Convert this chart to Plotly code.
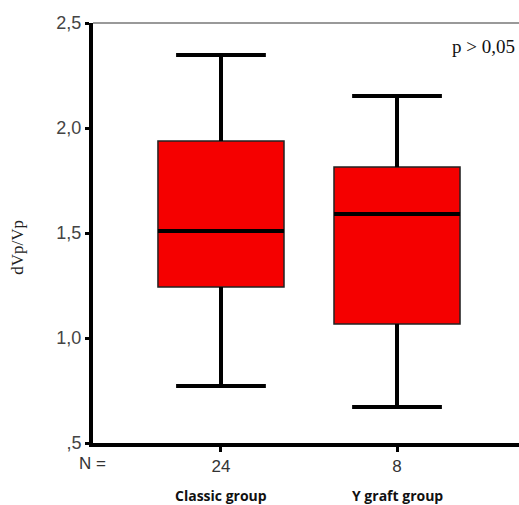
import plotly.graph_objects as go

groups = ["Classic group", "Y graft group"]
n_labels = ["24", "8"]
q1 = [1.243, 1.067]
median = [1.51, 1.59]
q3 = [1.938, 1.814]
lower = [0.771, 0.671]
upper = [2.348, 2.152]
y_ticks = [0.5, 1.0, 1.5, 2.0, 2.5]
y_tick_text = [",5", "1,0", "1,5", "2,0", "2,5"]

box_w = 0.716
cap_half = 0.255
xs = list(range(len(groups)))

fig = go.Figure()
fig.add_trace(go.Box(
    x=xs, q1=q1, median=median, q3=q3, lowerfence=lower, upperfence=upper,
    width=box_w, whiskerwidth=0, fillcolor="#f50000",
    line=dict(color="#222222", width=1.5), boxpoints=False, showlegend=False,
    hoverinfo="skip",
))

# whiskers, caps and median lines drawn thick
wx, wy = [], []
for i in xs:
    wx += [i, i, None, i - cap_half, i + cap_half, None,
           i, i, None, i - cap_half, i + cap_half, None,
           i - box_w / 2, i + box_w / 2, None]
    wy += [q3[i], upper[i], None, upper[i], upper[i], None,
           q1[i], lower[i], None, lower[i], lower[i], None,
           median[i], median[i], None]
fig.add_trace(go.Scatter(x=wx, y=wy, mode="lines",
                         line=dict(color="black", width=4),
                         showlegend=False, hoverinfo="skip"))

fig.update_layout(
    width=519, height=505,
    margin=dict(l=93, r=0, t=23, b=62),
    plot_bgcolor="white", paper_bgcolor="white",
    font=dict(family="Liberation Sans, Arial", size=16, color="#333333"),
)
fig.update_xaxes(
    range=[-0.727, 1.693], tickmode="array", tickvals=xs, ticktext=n_labels,
    showline=True, linecolor="black", linewidth=3.5, ticks="outside",
    ticklen=5, tickwidth=3, tickcolor="black", showgrid=False, zeroline=False,
    tickfont=dict(size=17, color="#333333"),
)
fig.update_yaxes(
    range=[0.5, 2.5], tickmode="array", tickvals=y_ticks, ticktext=y_tick_text,
    showline=True, linecolor="black", linewidth=4, ticks="outside",
    ticklen=4, tickwidth=3, tickcolor="black", showgrid=False, zeroline=False,
    tickfont=dict(size=18, color="#444444"),
)
fig.add_annotation(text="dVp/Vp", xref="paper", yref="paper", x=0, xshift=-75,
                   y=0.465, textangle=-90, showarrow=False,
                   xanchor="center", yanchor="middle",
                   font=dict(family="Liberation Serif, Times New Roman",
                             size=17, color="#222222"))
fig.add_shape(type="line", xref="paper", yref="paper", x0=0, x1=1, y0=1, y1=1,
              line=dict(color="#777777", width=1.5))
fig.add_annotation(text="p > 0,05", xref="paper", yref="paper", x=0.995, y=0.975,
                   xanchor="right", yanchor="top", showarrow=False,
                   font=dict(family="Liberation Serif, Times New Roman", size=19,
                             color="#111111"))
fig.add_annotation(text="N =", xref="paper", yref="y", x=0, y=0.5, yshift=-20,
                   xanchor="center", xshift=-1, yanchor="middle", showarrow=False,
                   font=dict(size=17, color="#333333"))
for i, g in enumerate(groups):
    fig.add_annotation(text="<b>" + g + "</b>", x=i, xref="x", yref="paper",
                       y=0, yshift=-52, yanchor="middle", showarrow=False,
                       font=dict(family="Open Sans, Lato", size=14, color="#111111"))

fig.write_html("out.html")
